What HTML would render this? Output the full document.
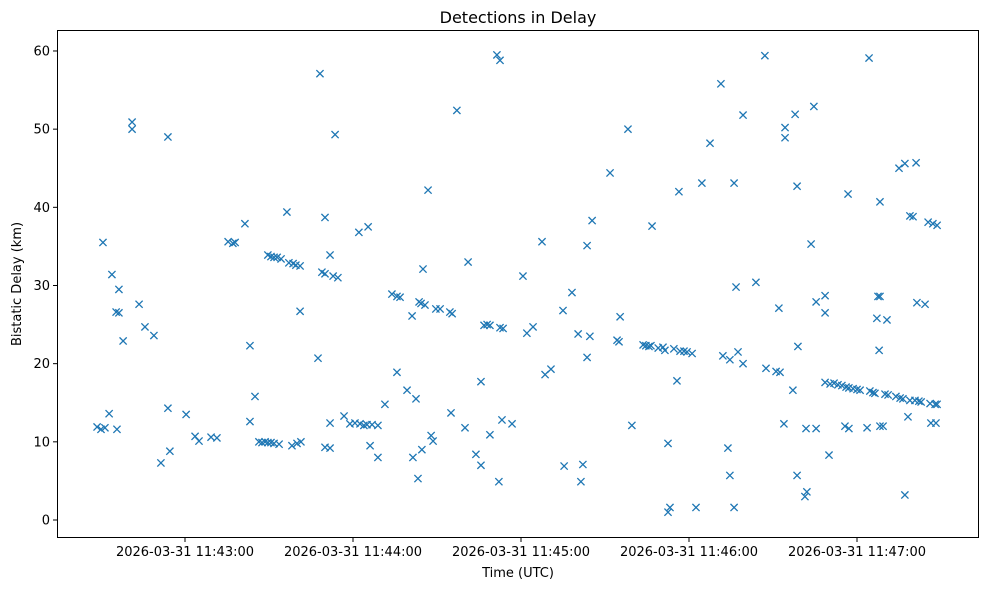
<!DOCTYPE html>
<html><head><meta charset="utf-8"><style>
body{margin:0;background:#fff;}
svg{display:block;font-family:"DejaVu Sans","Liberation Sans",sans-serif;}
</style></head><body>
<svg id="chart" width="989" height="590">
<rect x="0" y="0" width="989" height="590" fill="#fff"/>
<text x="518" y="23" text-anchor="middle" font-size="16">Detections in Delay</text>
<text x="518" y="577" text-anchor="middle" font-size="13">Time (UTC)</text>
<text transform="translate(21,284) rotate(-90)" text-anchor="middle" font-size="13">Bistatic Delay (km)</text>
<g id="yaxis"></g>
<g id="xaxis"></g>
<g id="points"></g>
<rect x="57.5" y="30.5" width="921" height="507" fill="none" stroke="#000" stroke-width="1"/>
</svg>
<script>
// seconds after 11:42:00 UTC
const times = [28.6,30,30.7,31.4,32.9,33.9,35.7,35.4,36.4,36.4,37.9,41.1,41.1,43.6,45.7,48.9,51.4,53.9,53.9,54.6,60.4,63.6,65,69.3,71.4,75.4,77.1,77.9,81.4,83.2,83.2,85,86.4,87.5,88.6,89.6,90.7,91.8,93.6,89.6,90.7,91.8,92.9,94.3,96.4,97.1,98.6,99.6,101.1,98.2,100,101.4,101.1,107.5,108.2,108.9,110,110,110,111.8,111.8,111.8,112.9,113.6,114.6,116.8,118.9,120.7,122.1,122.5,123.9,125.4,125,126.8,128.9,128.9,131.4,133.9,135.7,136.8,135.7,126.1,139.3,141.1,141.4,142.5,143.2,143.6,144.6,144.3,145,145.7,146.8,147.9,148.6,149.6,151.1,154.6,155.4,155,157.1,160,161.1,163.9,165.7,165.7,166.8,167.9,168.9,168.9,171.4,172.1,172.5,172.5,173.6,173.2,176.8,180.7,182.1,184.3,187.5,188.6,190.7,195,195.4,198.2,200.4,201.4,202.1,203.6,203.6,204.6,205.4,211.8,214.3,215,215.4,218.2,219.6,223.6,224.6,225.7,226.4,226.8,229,230.7,231.4,232.5,232.5,233.2,234.6,235.7,236.8,236.4,238.2,239.3,241.1,242.5,244.6,247.5,251.4,252.1,253.9,254.6,254.6,256.1,256.1,256.8,257.5,259.3,259.3,263.9,267.1,267.5,271.1,272.1,272.5,273.9,274.3,274.3,277.1,277.9,278.6,278.6,278.9,281.4,281.8,282.1,283.6,284.6,285.4,285.4,288.6,288.6,288.6,290,290.4,291.8,293.2,294.6,295.7,296.1,296.8,297.1,297.1,298.6,300,301.1,303.6,304.3,304.6,305.7,306.4,307.1,307.5,308.2,307.9,308.2,308.2,309.3,310,310.7,311.1,313.9,315,315.4,316.4,317.1,317.1,318.2,318.9,318.9,320,320.7,321.1,321.4,322.1,322.9,324.3,325.4,326.1,326.4,327.1,327.9,328.2,328.6,328.6];
const delays = [11.9,11.6,35.5,11.8,13.6,31.4,11.6,26.6,29.5,26.5,22.9,50.9,50,27.6,24.7,23.6,7.3,49,14.3,8.8,13.5,10.7,10.1,10.6,10.5,35.6,35.4,35.5,37.9,22.3,12.6,15.8,10,9.9,10,9.9,9.9,9.8,9.7,33.9,33.7,33.6,33.6,33.4,39.4,32.9,32.8,32.6,32.5,9.5,9.8,10,26.7,20.7,57.1,31.7,38.7,31.5,9.3,9.2,33.9,12.4,31.2,49.3,31,13.3,12.3,12.4,36.8,12.3,12.1,37.5,12.2,12.2,8,12.1,14.8,28.9,28.6,28.5,18.9,9.5,16.6,26.1,8,15.5,5.3,27.9,9,27.7,32.1,27.5,42.2,10.8,10.1,27,27,26.6,26.4,13.7,52.4,11.8,33,8.4,17.7,7,24.9,25,10.9,24.9,59.5,4.9,58.8,24.6,24.5,12.8,12.3,31.2,23.9,24.7,35.6,18.6,19.3,26.8,6.9,29.1,23.8,4.9,7.1,35.1,20.8,23.5,38.3,44.4,23,22.8,26,50,12.1,22.4,22.3,22.2,22.3,37.6,22,22.1,21.7,9.8,1,1.6,21.9,17.8,21.6,42,21.6,21.5,21.3,1.6,43.1,48.2,55.8,21,9.2,20.5,5.7,43.1,1.6,29.8,21.5,51.8,20,30.4,59.4,19.4,19,27.1,18.9,12.3,50.2,48.9,16.6,51.9,42.7,5.7,22.2,3,11.7,3.6,35.3,52.9,11.7,27.9,28.7,26.5,17.6,8.3,17.4,17.5,17.3,17.2,12,17,41.7,16.9,11.7,16.8,16.7,16.6,11.8,59.1,16.5,16.3,16.2,25.8,28.6,28.6,21.7,40.7,12,12,16.1,25.6,16,15.8,45,15.6,15.5,3.2,45.6,13.2,38.9,15.3,38.8,15.3,45.7,27.8,15.2,15.1,27.6,38.1,14.9,12.4,37.9,14.8,12.4,37.7,14.8];
const yTicks = [0,10,20,30,40,50,60];
const xTickSecs = [60,120,180,240,300];
const xTickLabels = ["2026-03-31 11:43:00","2026-03-31 11:44:00","2026-03-31 11:45:00","2026-03-31 11:46:00","2026-03-31 11:47:00"];

const NS = "http://www.w3.org/2000/svg";
function xScale(s){ return 17 + 2.8 * s; }
function yScale(v){ return 520 - 7.817 * v; }
function mk(tag, attrs, parent){ const e = document.createElementNS(NS, tag); for (const k in attrs) e.setAttribute(k, attrs[k]); parent.appendChild(e); return e; }

const ya = document.getElementById('yaxis');
yTicks.forEach(v => {
  const y = yScale(v);
  const l = mk('line', {x1:53, x2:57, y1:y, y2:y, stroke:'#000'}, ya);
  
  
  const t = mk('text', {x:50, y:y+4.5, 'text-anchor':'end', 'font-size':13}, ya);
  t.textContent = v;
  
  
});
const xa = document.getElementById('xaxis');
xTickSecs.forEach((s, i) => {
  const x = xScale(s);
  const l = mk('line', {x1:x, x2:x, y1:538, y2:542, stroke:'#000'}, xa);
  
  
  const t = mk('text', {x:x, y:556, 'text-anchor':'middle', 'font-size':13}, xa);
  t.textContent = xTickLabels[i];
  
  
});
const pg = document.getElementById('points');
times.forEach((s, i) => {
  const x = xScale(s), y = yScale(delays[i]), r = 3.6;
  const p = mk('path', {d:`M${x-r},${y-r}L${x+r},${y+r}M${x-r},${y+r}L${x+r},${y-r}`, stroke:'#1f77b4', 'stroke-width':1.3, fill:'none'}, pg);
  
  
});
</script>
</body></html>
